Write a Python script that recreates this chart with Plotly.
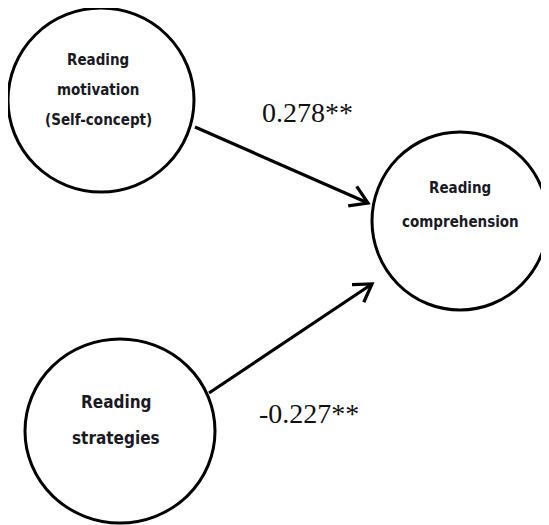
import math
import plotly.graph_objects as go

# ---- data ----
node_names = ["Reading motivation (Self-concept)", "Reading strategies", "Reading comprehension"]
node_cx = [101, 120, 460]
node_cy = [100, 431, 221]
node_rx = [93, 95, 88]
node_ry = [92, 92, 89]

label_lines = [["Reading", "motivation", "(Self-concept)"],
               ["Reading", "strategies"],
               ["Reading", "comprehension"]]
label_x = [98, 116, 460]
label_y = [[60, 90, 120], [402, 438], [188, 222]]
label_size = [15, 17, 15]

path_from = [0, 1]
path_to = [2, 2]
path_coef = ["0.278**", "-0.227**"]
path_start_x = [195, 209]
path_start_y = [127, 393]
path_end_x = [368, 372]
path_end_y = [203, 284]
coef_x = [307, 309]
coef_y = [112, 413]

# page has an 8px body margin; size figure so data units == page pixels
PAD = 8
W, H = 549, 525
fig = go.Figure()

# circles
for i in range(len(node_names)):
    fig.add_shape(type="circle", xref="x", yref="y",
                  x0=node_cx[i] - node_rx[i], x1=node_cx[i] + node_rx[i],
                  y0=node_cy[i] - node_ry[i], y1=node_cy[i] + node_ry[i],
                  line=dict(color="black", width=3), fillcolor="white", layer="below")

# node labels
for i, lines in enumerate(label_lines):
    for j, t in enumerate(lines):
        fig.add_annotation(x=label_x[i], y=label_y[i][j], text="<b>" + t + "</b>",
                           showarrow=False, xanchor="center", yanchor="middle",
                           font=dict(family="DejaVu Sans Condensed, sans-serif",
                                     size=label_size[i], color="#1a1a24"))

# arrows
for k in range(len(path_coef)):
    sx, sy, ex, ey = path_start_x[k], path_start_y[k], path_end_x[k], path_end_y[k]
    ang = math.atan2(ey - sy, ex - sx)
    L = 20
    spread = math.radians(32)
    b1x = ex - L * math.cos(ang - spread); b1y = ey - L * math.sin(ang - spread)
    b2x = ex - L * math.cos(ang + spread); b2y = ey - L * math.sin(ang + spread)
    fig.add_trace(go.Scatter(x=[sx, ex, None, b1x, ex, b2x],
                             y=[sy, ey, None, b1y, ey, b2y],
                             mode="lines", line=dict(color="black", width=3.2),
                             hoverinfo="skip", showlegend=False))
    fig.add_annotation(x=coef_x[k], y=coef_y[k], text=path_coef[k], showarrow=False,
                       xanchor="center", yanchor="middle",
                       font=dict(family="Liberation Serif, DejaVu Serif, serif", size=28, color="#111"))

fig.update_layout(width=W - PAD, height=H - PAD, margin=dict(l=0, r=0, t=0, b=0),
                  paper_bgcolor="white", plot_bgcolor="white", showlegend=False)
fig.update_xaxes(range=[PAD, W], visible=False, fixedrange=True)
fig.update_yaxes(range=[H, PAD], visible=False, fixedrange=True)
fig.write_html("out.html")
